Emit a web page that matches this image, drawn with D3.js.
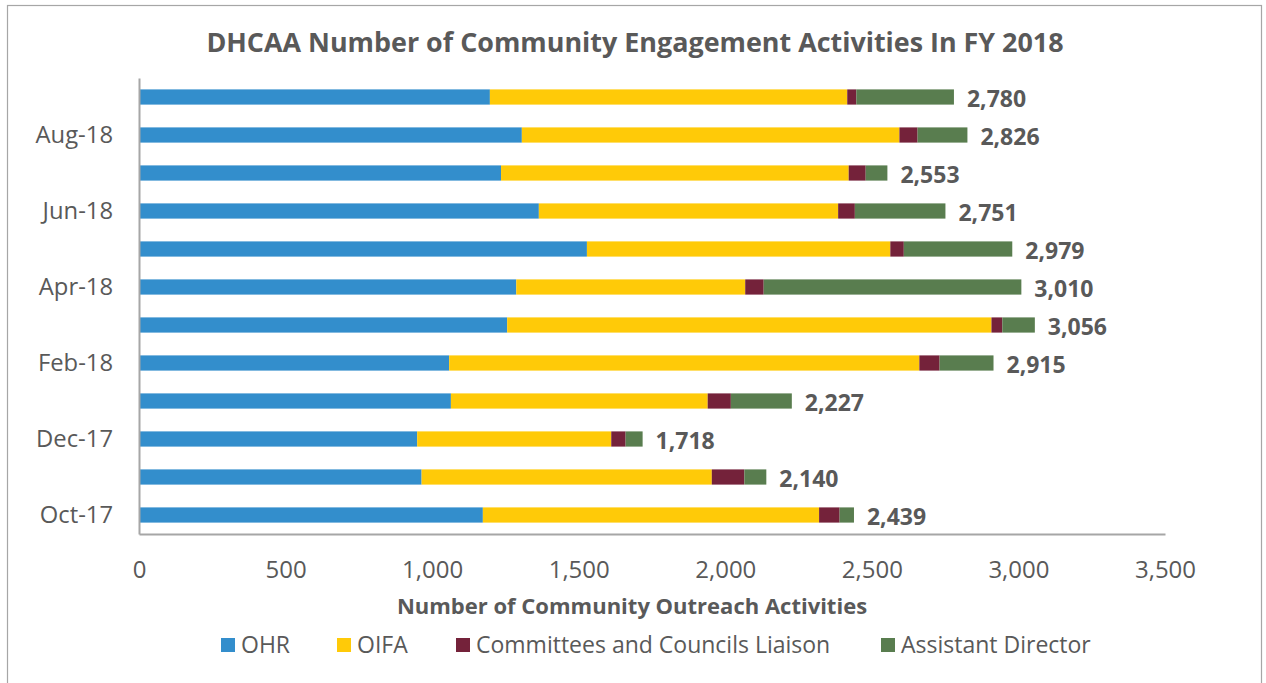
<!DOCTYPE html>
<html>
<head>
<meta charset="utf-8">
<script src="https://cdn.jsdelivr.net/npm/d3@7/dist/d3.min.js"></script>
<style>
  html, body { margin: 0; padding: 0; background: #fff; }
  svg { display: block; }
  text { font-family: "Open Sans", "Noto Sans", sans-serif; fill: #595959; }
</style>
</head>
<body>
<svg id="chart" width="1266" height="683"></svg>
<script>
// Monthly community engagement activity counts, FY 2018
const months = ["Oct-17","Nov-17","Dec-17","Jan-18","Feb-18","Mar-18","Apr-18","May-18","Jun-18","Jul-18","Aug-18","Sep-18"];
const ohr    = [1173, 964, 949, 1064, 1058, 1256, 1287, 1528, 1364, 1235, 1306, 1197];
const oifa   = [1147, 990, 662, 876, 1604, 1652, 781, 1035, 1021, 1186, 1288, 1219];
const liaison = [70, 111, 49, 79, 69, 37, 63, 46, 57, 58, 62, 31];
const assistant = [49, 75, 58, 208, 184, 111, 879, 370, 309, 74, 170, 333];
const seriesNames = ["OHR", "OIFA", "Committees and Councils Liaison", "Assistant Director"];
const xTicks = [0, 500, 1000, 1500, 2000, 2500, 3000, 3500];
const shownMonths = ["Oct-17","Dec-17","Feb-18","Apr-18","Jun-18","Aug-18"];

const colors = ["#338ECC", "#FFCA08", "#74223A", "#597D4F"];
const seriesValues = [ohr, oifa, liaison, assistant];

const rows = months.map((m, i) => {
  const r = { month: m };
  seriesNames.forEach((s, k) => r[s] = seriesValues[k][i]);
  r.total = seriesValues.reduce((a, arr) => a + arr[i], 0);
  return r;
});

const svg = d3.select("#chart");

// outer chart frame
svg.append("rect")
  .attr("x", 7.5).attr("y", 5.5)
  .attr("width", 1254).attr("height", 700)
  .attr("fill", "none").attr("stroke", "#a6a6a6").attr("stroke-width", 1.2);

const plot = { left: 139, right: 1165, top: 78, bottom: 534 };

const x = d3.scaleLinear().domain([0, 3500]).range([plot.left, plot.right]);
const y = d3.scaleBand().domain(months).range([plot.bottom, plot.top])
  .paddingInner(0.6).paddingOuter(0.3);

const stack = d3.stack().keys(seriesNames);
const layers = stack(rows);

svg.append("g").selectAll("g")
  .data(layers)
  .join("g")
  .attr("fill", (d, i) => colors[i])
  .selectAll("rect")
  .data(d => d)
  .join("rect")
  .attr("x", d => x(d[0]))
  .attr("width", d => x(d[1]) - x(d[0]))
  .attr("y", d => y(d.data.month))
  .attr("height", y.bandwidth());

// value labels at the end of each bar
const fmt = d3.format(",");
svg.append("g").selectAll("text")
  .data(rows)
  .join("text")
  .attr("x", d => x(d.total) + 13)
  .attr("y", d => y(d.month) + y.bandwidth() / 2)
  .attr("dy", "0.42em")
  .attr("font-size", 23)
  .attr("font-weight", 700)
  .text(d => fmt(d.total));

// x axis
const xAxis = svg.append("g")
  .attr("transform", `translate(0,${plot.bottom})`)
  .call(d3.axisBottom(x).tickValues(xTicks).tickSize(0).tickFormat(fmt));
xAxis.select(".domain").attr("stroke", "#a6a6a6").attr("stroke-width", 2);
xAxis.selectAll("text")
  .attr("y", 44).attr("dy", 0)
  .attr("font-size", 24)
  .attr("font-family", "'Open Sans', sans-serif")
  .attr("fill", "#595959");

// y axis
const yAxis = svg.append("g")
  .attr("transform", `translate(${plot.left},0)`)
  .call(d3.axisLeft(y).tickValues(shownMonths).tickSize(0).tickPadding(26));
yAxis.select(".domain").attr("stroke", "#a6a6a6").attr("stroke-width", 2);
yAxis.selectAll("text")
  .attr("font-size", 23.8)
  .attr("font-family", "'Open Sans', sans-serif")
  .attr("fill", "#595959");

// title
svg.append("text")
  .attr("x", 635).attr("y", 52)
  .attr("text-anchor", "middle")
  .attr("font-size", 26.9)
  .attr("font-weight", 700)
  .text("DHCAA Number of Community Engagement Activities In FY 2018");

// x axis title
svg.append("text")
  .attr("x", 632).attr("y", 614)
  .attr("text-anchor", "middle")
  .attr("font-size", 22)
  .attr("font-weight", 700)
  .text("Number of Community Outreach Activities");

// legend
const legendX = [221, 337, 456, 881];
const legend = svg.append("g").selectAll("g")
  .data(seriesNames)
  .join("g")
  .attr("transform", (d, i) => `translate(${legendX[i]},645)`);
legend.append("rect")
  .attr("x", 0).attr("y", -7)
  .attr("width", 14).attr("height", 14)
  .attr("fill", (d, i) => colors[i]);
legend.append("text")
  .attr("x", 20).attr("dy", "0.36em")
  .attr("font-size", 23)
  .text(d => d);
</script>
</body>
</html>
